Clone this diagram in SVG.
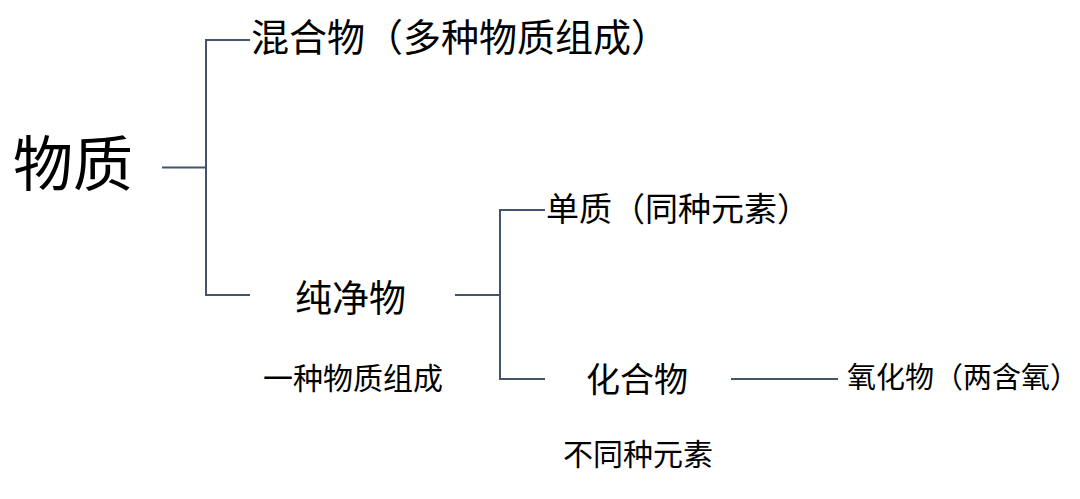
<svg xmlns="http://www.w3.org/2000/svg" width="1080" height="499" viewBox="0 0 1080 499">
<style>
text{font-family:"Noto Sans CJK SC","Noto Sans",sans-serif;fill:#000;}
.c{fill:none;stroke:#44546A;stroke-width:2;}
</style>
<rect width="1080" height="499" fill="#fff"/>
<g id="connectors">
<path class="c" d="M162,167.5 H206"/>
<path class="c" d="M250,40 H206 V295 H250"/>
<path class="c" d="M455,295 H500"/>
<path class="c" d="M545,210 H500 V379 H545"/>
<path class="c" d="M731,379 H838"/>
</g>
<g id="wuzhi"><text x="13" y="186" font-size="60">物质</text></g>
<g id="hunhewu"><text x="251" y="51" font-size="38">混合物（多种物质组成）</text></g>
<g id="chunjingwu"><text x="295" y="312" font-size="37">纯净物</text></g>
<g id="chunjingwu-note"><text x="263" y="389" font-size="30">一种物质组成</text></g>
<g id="danzhi"><text x="546" y="221" font-size="33">单质（同种元素）</text></g>
<g id="huahewu"><text x="586" y="392" font-size="34">化合物</text></g>
<g id="huahewu-note"><text x="563" y="465" font-size="30">不同种元素</text></g>
<g id="yanghuawu"><text x="847" y="388" font-size="29">氧化物（两含氧）</text></g>
</svg>
